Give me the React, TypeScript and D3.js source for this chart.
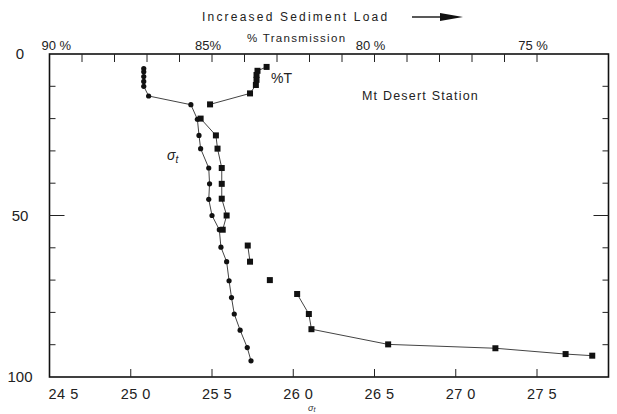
import React from "react";
import * as d3 from "d3";

// sigma-t profile (circles)
const sigmaDepth = [4.5, 5.5, 7, 8.5, 10, 13, 15.7, 20.2, 25.2, 29.3, 35.3, 40.2, 45, 50, 54.4, 59.8, 64.3, 70.2, 75.4, 80.5, 85.5, 90.9, 95];
const sigmaT = [25.08, 25.08, 25.08, 25.08, 25.08, 25.11, 25.37, 25.41, 25.42, 25.43, 25.48, 25.485, 25.48, 25.5, 25.545, 25.555, 25.59, 25.605, 25.62, 25.637, 25.673, 25.717, 25.74];

// % transmission profile (squares)
const transDepth = [4, 5.2, 6.5, 8, 9.6, 12.2, 15.6, 20, 25.2, 29.3, 35.3, 40.2, 44.8, 50, 54.4, 59.3, 64.3, 70, 74.3, 80.5, 85.2, 89.9, 91.1, 92.9, 93.4];
const transPct = [83.32, 83.6, 83.63, 83.63, 83.65, 83.83, 85.06, 85.35, 84.88, 84.83, 84.7, 84.7, 84.7, 84.55, 84.67, 83.9, 83.83, 83.22, 82.38, 82.02, 81.94, 79.58, 76.28, 74.12, 73.3];
// depths after which the %T trace is broken in the original
const transBreakAfter = [15.6, 54.4, 64.3, 70];

const sigmaTicks = [24.5, 25.0, 25.5, 26.0, 26.5, 27.0, 27.5];
const sigmaTickLabels = ["24 5", "25 0", "25 5", "26 0", "26 5", "27 0", "27 5"];
const transMajor = [90, 85, 80, 75];
const transMajorLabels = ["90 %", "85%", "80 %", "75 %"];
const transMinor = d3.range(89, 74, -1);
const depthTicks = [10, 20, 30, 40, 50, 60, 70, 80, 90];
const depthLabels = [0, 50, 100];

export default function App() {
  const xS = d3.scaleLinear().domain([24.5, 27.5]).range([49.5, 537]);
  const xT = d3.scaleLinear().domain([90, 75]).range([49.5, 537]);
  const y = d3.scaleLinear().domain([0, 100]).range([54, 377]);
  const left = xS(24.5);
  const right = xS(27.94);
  const top = y(0);
  const bottom = y(100);

  const sigmaPts = sigmaDepth.map((d, i) => [xS(sigmaT[i]), y(d)] as [number, number]);
  const transPts = transDepth.map((d, i) => [xT(transPct[i]), y(d)] as [number, number]);
  const line = d3.line();

  const transSegs: [number, number][][] = [];
  let cur: [number, number][] = [];
  transPts.forEach((p, i) => {
    cur.push(p);
    if (transBreakAfter.includes(transDepth[i])) {
      transSegs.push(cur);
      cur = [];
    }
  });
  if (cur.length) transSegs.push(cur);

  const font = "'Liberation Sans', Arial, sans-serif";

  return (
    <svg width={617} height={414} style={{ position: "absolute", left: 0, top: 0, background: "#fff" }} fontFamily={font}>
      <rect x={0} y={0} width={617} height={414} fill="#fff" />
      {/* titles */}
      <text x={202} y={21} fontSize={12} letterSpacing={2.2} fill="#222">Increased Sediment Load</text>
      <line x1={412} y1={17} x2={444} y2={17} stroke="#222" strokeWidth={1.5} />
      <path d="M440,13 L463,17 L440,21 Z" fill="#111" />
      <text x={247} y={42} fontSize={11.5} letterSpacing={1.3} fill="#222">% Transmission</text>

      {/* frame */}
      <rect x={left} y={top} width={right - left} height={bottom - top} fill="none" stroke="#111" strokeWidth={1.6} />

      {/* top %T ticks */}
      {transMinor.map((t) => (
        <line key={"tt" + t} x1={xT(t)} x2={xT(t)} y1={top} y2={top + 8} stroke="#222" strokeWidth={1} />
      ))}
      {transMajor.map((t, i) => (
        <text key={"tl" + t} x={i === 0 ? left - 8 : xT(t) - 4} y={50} fontSize={13} fill="#222" textAnchor={i === 0 ? "start" : "middle"}>
          {transMajorLabels[i]}
        </text>
      ))}

      {/* bottom sigma ticks */}
      {sigmaTicks.slice(1).map((s) => (
        <line key={"bt" + s} x1={xS(s)} x2={xS(s)} y1={bottom} y2={bottom - 8} stroke="#222" strokeWidth={1} />
      ))}
      {sigmaTicks.map((s, i) => (
        <text key={"bl" + s} x={i === 0 ? left - 1 : xS(s) + 5} y={399} fontSize={14.5} fill="#222" textAnchor={i === 0 ? "start" : "middle"} letterSpacing={0.5}>
          {sigmaTickLabels[i]}
        </text>
      ))}
      <text x={308} y={411} fontSize={9} fontStyle="italic" fill="#333">σ<tspan fontSize={7} dy={1}>t</tspan></text>

      {/* depth ticks */}
      {depthTicks.map((d) => (
        <g key={"dt" + d}>
          <line x1={left} x2={left + (d === 50 ? 15 : 6)} y1={y(d)} y2={y(d)} stroke="#222" strokeWidth={1} />
          <line x1={right} x2={right - (d === 50 ? 15 : 6)} y1={y(d)} y2={y(d)} stroke="#222" strokeWidth={1} />
        </g>
      ))}
      {depthLabels.map((d) => (
        <text key={"dl" + d} x={20} y={y(d) + 5} fontSize={15} textAnchor="middle" fill="#222">{d}</text>
      ))}

      {/* sigma-t profile */}
      <path d={line(sigmaPts) || ""} fill="none" stroke="#444" strokeWidth={1} />
      {sigmaPts.map((p, i) => (
        <circle key={"sc" + i} cx={p[0]} cy={p[1]} r={2.6} fill="#111" />
      ))}

      {/* %T profile */}
      {transSegs.map((s, i) => (
        <path key={"ts" + i} d={line(s) || ""} fill="none" stroke="#444" strokeWidth={1} />
      ))}
      {transPts.map((p, i) => (
        <rect key={"tr" + i} x={p[0] - 3} y={p[1] - 3} width={6} height={6} fill="#111" />
      ))}

      {/* annotations */}
      <text x={271} y={83} fontSize={14} fill="#222">%T</text>
      <text x={167} y={160} fontSize={14} fontStyle="italic" fill="#222">σ<tspan fontSize={10} dy={3}>t</tspan></text>
      <text x={362} y={100} fontSize={12.5} letterSpacing={1.2} fill="#222">Mt Desert Station</text>
    </svg>
  );
}
